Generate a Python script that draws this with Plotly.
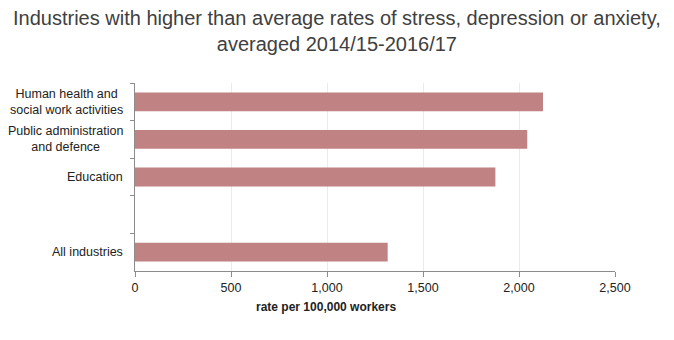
import plotly.graph_objects as go

categories = ["Human health and<br>social work activities",
              "Public administration<br>and defence",
              "Education",
              " ",
              "All industries"]
values = [2125, 2043, 1877, None, 1316]
x_ticks = [0, 500, 1000, 1500, 2000, 2500]
x_tick_labels = ["0", "500", "1,000", "1,500", "2,000", "2,500"]
title_text = ("Industries with higher than average rates of stress, depression or anxiety,"
              "<br>averaged 2014/15-2016/17")
x_title = "<b>rate per 100,000 workers</b>"

L, R, T, B, W, H = 135, 59, 83, 69, 674, 340

fig = go.Figure()
fig.add_trace(go.Bar(
    y=categories, x=values, orientation="h",
    marker=dict(color="#C08282", line=dict(width=0)),
    width=0.5, hoverinfo="x+y",
))

for c in categories:
    if c.strip():
        fig.add_annotation(x=0, xref="paper", xshift=-10, xanchor="right",
                           y=c, yref="y", text=c, showarrow=False, align="center",
                           font=dict(family="Liberation Sans, Arial", size=12.5, color="#222222"))

# chart title as annotation (two centred lines)
fig.add_annotation(x=(W / 2 - L) / (W - L - R), xref="paper", y=1, yref="paper",
                   yshift=T - 5, yanchor="top", xanchor="center", align="center",
                   text=title_text, showarrow=False,
                   font=dict(family="Liberation Sans, Arial", size=20, color="#404040"))

fig.add_annotation(x=(326 - L) / (W - L - R), xref="paper", y=0, yref="paper",
                   text=x_title, showarrow=False,
                   xanchor="center", yanchor="middle", yshift=-36,
                   font=dict(family="Liberation Sans, Arial", size=12, color="#222222"))

fig.update_layout(
    width=W, height=H,
    margin=dict(l=L, r=R, t=T, b=B),
    paper_bgcolor="white", plot_bgcolor="white",
    showlegend=False,
    font=dict(family="Liberation Sans, Arial", size=12, color="#222222"),
)
fig.update_xaxes(range=[0, 2500], tickvals=x_ticks, ticktext=x_tick_labels,
                 showgrid=True, gridcolor="#ebebeb", gridwidth=1,
                 showline=True, linecolor="#8c8c8c", linewidth=1,
                 ticks="outside", ticklen=5, tickcolor="#8c8c8c",
                 zeroline=False, tickfont=dict(size=12.5, color="#222222"))
fig.update_yaxes(categoryorder="array", categoryarray=categories, autorange="reversed",
                 showticklabels=False, tickson="boundaries",
                 ticks="outside", ticklen=4, tickcolor="#8c8c8c",
                 showline=True, linecolor="#8c8c8c", linewidth=1, showgrid=False)

fig.write_html("out.html")
